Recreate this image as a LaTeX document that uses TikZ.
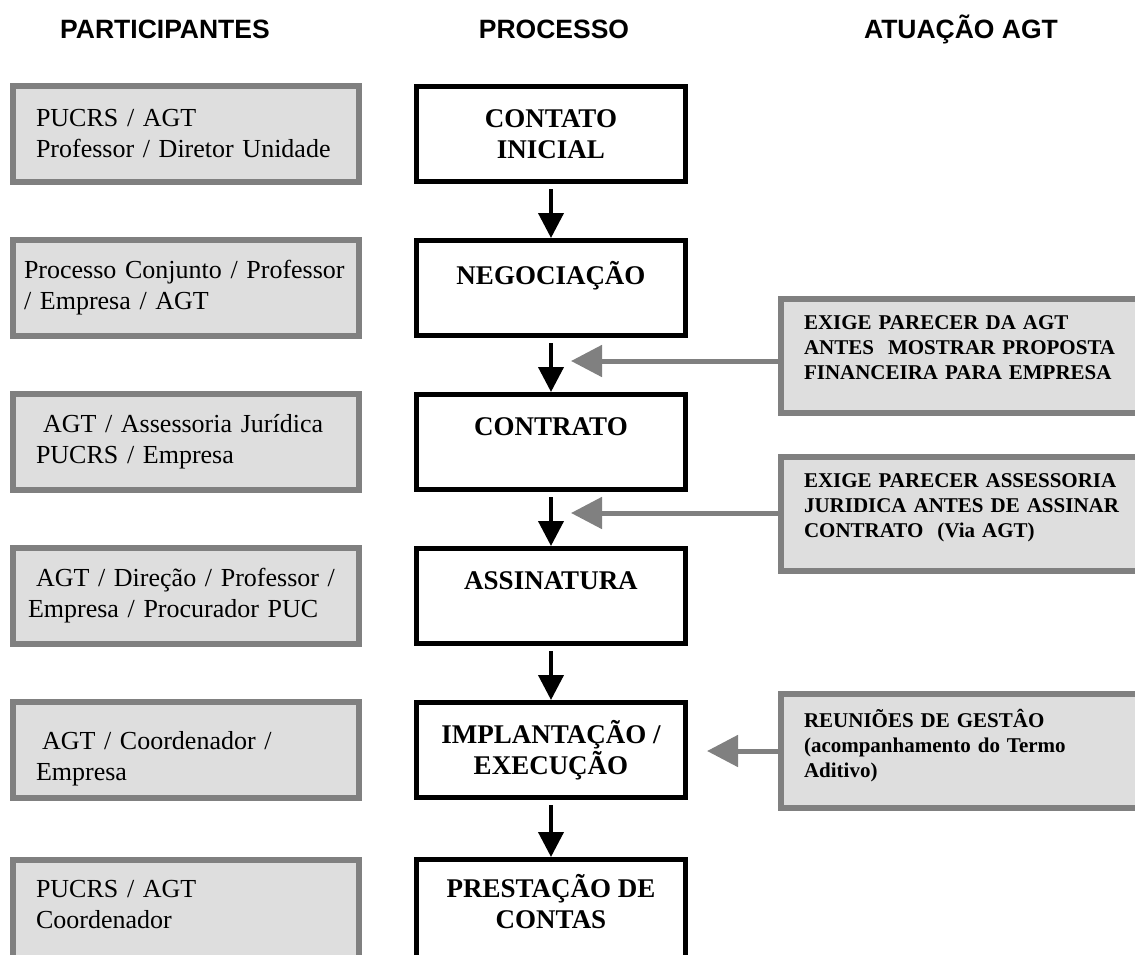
\documentclass[tikz,border=0pt]{standalone}
\usepackage{fontspec}
\setmainfont{Liberation Serif}
\newfontfamily\titlefont{Liberation Sans}
\usetikzlibrary{arrows.meta}
\usetikzlibrary{positioning}
\definecolor{borda}{gray}{0.5}
\definecolor{fundo}{gray}{0.87}

\begin{document}
\begin{tikzpicture}[x=1pt, y=-1pt,
  titulo/.style={font=\titlefont\bfseries\fontsize{26.5pt}{30pt}\selectfont, anchor=base, inner sep=0pt},
  etapa/.style={draw, line width=5pt, minimum width=269pt, minimum height=95pt, inner sep=0pt,
                align=center, font=\bfseries\fontsize{27pt}{31pt}\selectfont},
  participante/.style={draw=borda, fill=fundo, line width=6pt, minimum width=346pt, minimum height=96pt,
                text width=332pt, inner xsep=7pt, align=left, font=\fontsize{26pt}{31pt}\selectfont},
  atuacao/.style={draw=borda, fill=fundo, line width=6pt, minimum height=114pt, anchor=west,
                text width=380pt, inner xsep=23pt, align=left, font=\bfseries\fontsize{21pt}{25pt}\selectfont},
  seta/.style={line width=4pt, -{Triangle[length=25pt, width=25pt]}, shorten <=5pt},
  setacinza/.style={draw=borda, line width=5pt, -{Triangle[length=31pt, width=31pt]}}]
\useasboundingbox (0,0) rectangle (1135,954);
\clip (0,0) rectangle (1135,954);

\node [titulo] (tpart) at (165,38) {PARTICIPANTES};
\node [titulo] (tproc) at (554,38) {PROCESSO};
\node [titulo] (tatua) at (961,38) {ATUAÇÃO AGT};

\node [etapa] (contato) at (551,134) {CONTATO\\INICIAL};
\node [etapa, below=54pt of contato] (negociacao) {NEGOCIAÇÃO\\~};
\node [etapa, below=54pt of negociacao] (contrato) {CONTRATO\\~};
\node [etapa, below=54pt of contrato] (assinatura) {ASSINATURA\\~};
\node [etapa, below=54pt of assinatura] (implantacao) {IMPLANTAÇÃO /\\EXECUÇÃO};
\node [etapa, minimum height=115pt, below=57pt of implantacao] (prestacao) {PRESTAÇÃO DE\\CONTAS\\~};

\node [participante, left=52pt of contato] (part1)
      {\hspace*{16pt}PUCRS / AGT\\\hspace*{16pt}Professor / Diretor Unidade};
\node [participante, left=52pt of negociacao] (part2)
      {\hspace*{4pt}Processo Conjunto / Professor\\\hspace*{4pt}/ Empresa / AGT};
\node [participante, left=52pt of contrato] (part3)
      {\hspace*{23pt}AGT / Assessoria Jurídica\\\hspace*{16pt}PUCRS / Empresa};
\node [participante, left=52pt of assinatura] (part4)
      {\hspace*{16pt}AGT / Direção / Professor /\\\hspace*{8pt}Empresa / Procurador PUC};
\node [participante, left=52pt of implantacao] (part5)
      {\hspace*{22pt}\rule{0pt}{36pt}AGT / Coordenador /\\\hspace*{16pt}Empresa};
\node [participante, minimum height=120pt, left=52pt of prestacao.north west, anchor=north east] (part6)
      {\hspace*{16pt}PUCRS / AGT\\\hspace*{16pt}Coordenador\\~};

\draw [seta] (contato) -- (negociacao);
\draw [seta] (negociacao) -- (contrato);
\draw [seta] (contrato) -- (assinatura);
\draw [seta] (assinatura) -- (implantacao);
\draw [seta] (implantacao) -- (prestacao);

\node [atuacao] (parecer) at (778,356)
      {EXIGE PARECER DA AGT\\ANTES~ MOSTRAR PROPOSTA\\FINANCEIRA PARA EMPRESA\rule[-16pt]{0pt}{0pt}};
\node [atuacao] (juridica) at (778,514)
      {EXIGE PARECER ASSESSORIA\\JURIDICA ANTES DE ASSINAR\\CONTRATO~ (Via AGT)\rule[-16pt]{0pt}{0pt}};
\node [atuacao] (reunioes) at (778,751)
      {REUNIÕES DE GESTÂO\\(acompanhamento do Termo\\Aditivo)\rule[-16pt]{0pt}{0pt}};

\coordinate (alvo1) at (571,361);
\coordinate (alvo2) at (571,513);
\coordinate (alvo3) at (707,751);
\draw [setacinza] (parecer.west |- alvo1) -- (alvo1);
\draw [setacinza] (juridica.west |- alvo2) -- (alvo2);
\draw [setacinza] (reunioes.west |- alvo3) -- (alvo3);
\end{tikzpicture}
\end{document}
